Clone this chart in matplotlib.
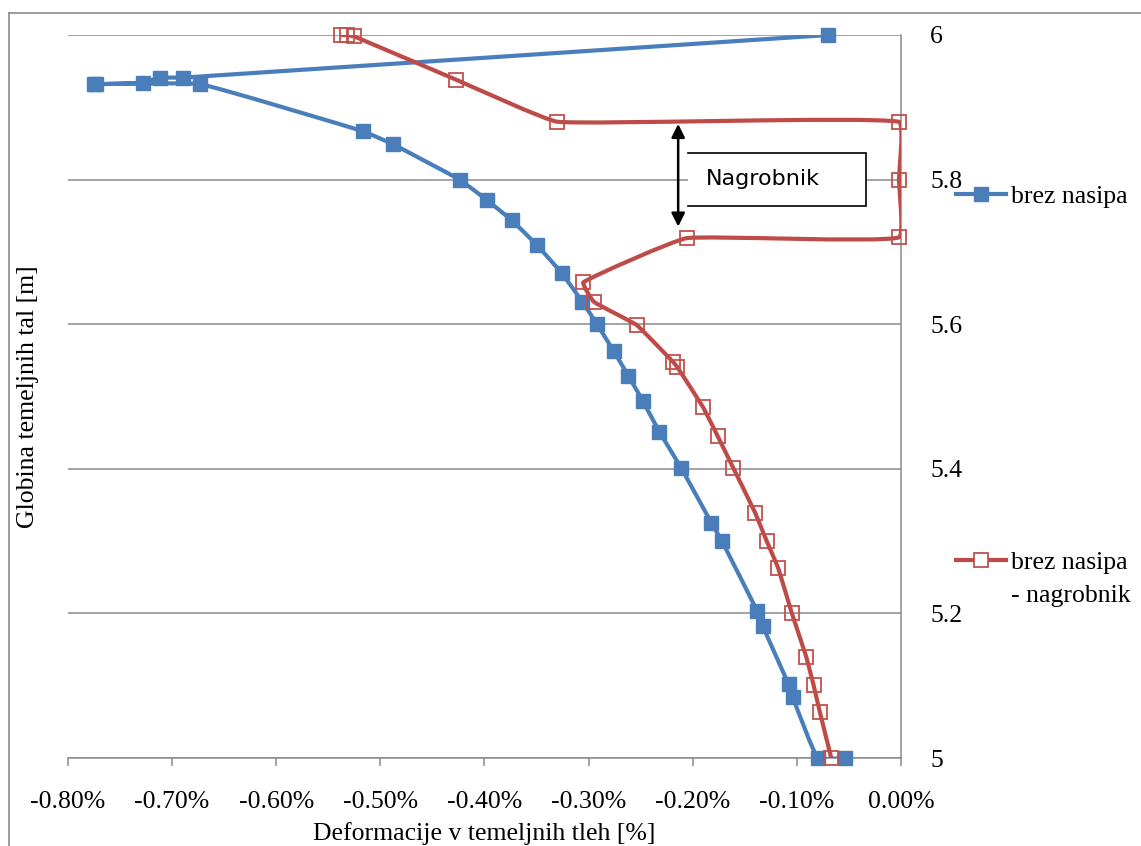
import numpy as np
import matplotlib
matplotlib.use("Agg")
import matplotlib.pyplot as plt
from matplotlib.path import Path
from matplotlib.patches import PathPatch, Rectangle
from matplotlib.lines import Line2D
from matplotlib.ticker import FuncFormatter

# Deformation [%] vs. depth of foundation soil [m]
brez_x = [-0.070, -0.690, -0.712, -0.728, -0.775, -0.773, -0.673, -0.517, -0.488,
          -0.424, -0.398, -0.374, -0.350, -0.326, -0.306, -0.292, -0.276, -0.262,
          -0.248, -0.232, -0.211, -0.182, -0.172, -0.138, -0.133, -0.108, -0.104,
          -0.080, -0.054]
brez_y = [6.000, 5.941, 5.941, 5.934, 5.932, 5.932, 5.932, 5.867, 5.849,
          5.800, 5.772, 5.744, 5.710, 5.671, 5.631, 5.600, 5.563, 5.529,
          5.494, 5.451, 5.401, 5.325, 5.300, 5.203, 5.183, 5.102, 5.084,
          5.000, 5.000]

nagr_x = [-0.538, -0.532, -0.525, -0.427, -0.330, -0.002, -0.002, -0.002, -0.206,
          -0.305, -0.295, -0.254, -0.219, -0.215, -0.190, -0.176, -0.161, -0.140,
          -0.129, -0.118, -0.105, -0.091, -0.084, -0.078, -0.067]
nagr_y = [6.000, 6.000, 5.998, 5.938, 5.880, 5.880, 5.800, 5.720, 5.719,
          5.658, 5.631, 5.599, 5.548, 5.541, 5.485, 5.445, 5.401, 5.339,
          5.300, 5.263, 5.201, 5.140, 5.101, 5.064, 5.000]

label_brez = "brez nasipa"
label_nagr = ["brez nasipa", "- nagrobnik"]
x_ticks = np.arange(-0.8, 0.001, 0.1)
y_ticks = [5.0, 5.2, 5.4, 5.6, 5.8, 6.0]

BLUE = "#4A7EBB"
RED = "#BE4B48"
GRID = "#8A8A8A"
SERIF = ["Liberation Serif", "DejaVu Serif"]
FS = 18.5
LW = 3.0


def _unit(v):
    n = np.hypot(*v)
    return v / n if n > 1e-9 else np.zeros(2)


def smooth_path(ax, x, y, k=0.1):
    """Lightly smoothed line through the points, built as cubic Bezier
    segments in screen space so both axes are treated alike."""
    to_px = ax.transData
    p = to_px.transform(np.column_stack([x, y]))
    n = len(p)
    verts = [p[0]]
    codes = [Path.MOVETO]
    for i in range(n - 1):
        p0 = p[i - 1] if i > 0 else p[i]
        p1, p2 = p[i], p[i + 1]
        p3 = p[i + 2] if i + 2 < n else p[i + 1]
        d = np.hypot(*(p2 - p1))
        t1 = _unit(p2 - p0)
        t2 = _unit(p3 - p1)
        verts += [p1 + t1 * d * k, p2 - t2 * d * k, p2]
        codes += [Path.CURVE4] * 3
    verts = to_px.inverted().transform(np.array(verts))
    return Path(verts, codes)


fig = plt.figure(figsize=(11.41, 8.46), dpi=100)
ax = fig.add_axes([68 / 1141, 1 - 758 / 846, (901 - 68) / 1141, (758 - 35) / 846])

ax.set_xlim(-0.8, 0.0)
ax.set_ylim(5.0, 6.0)

# series
ax.add_patch(PathPatch(smooth_path(ax, brez_x, brez_y), facecolor="none",
                       edgecolor=BLUE, lw=LW, zorder=3, capstyle="round",
                       joinstyle="round"))
ax.plot(brez_x, brez_y, linestyle="none", marker="s", markersize=10,
        markerfacecolor=BLUE, markeredgecolor=BLUE, zorder=4, clip_on=False)
ax.add_patch(PathPatch(smooth_path(ax, nagr_x, nagr_y), facecolor="none",
                       edgecolor=RED, lw=LW, zorder=5, capstyle="round",
                       joinstyle="round"))
ax.plot(nagr_x, nagr_y, linestyle="none", marker="s", markersize=10,
        markerfacecolor="none", markeredgecolor="#C0504D", markeredgewidth=1.3,
        zorder=6, clip_on=False)

# axes styling
for side in ("left", "top"):
    ax.spines[side].set_visible(False)
for side in ("right", "bottom"):
    ax.spines[side].set_color(GRID)
    ax.spines[side].set_linewidth(1.1)
ax.yaxis.tick_right()
ax.yaxis.set_label_position("left")
ax.set_yticks(y_ticks)
ax.set_xticks(x_ticks)
ax.yaxis.set_major_formatter(FuncFormatter(lambda v, _: f"{v:g}"))
ax.xaxis.set_major_formatter(
    FuncFormatter(lambda v, _: f"{v + 0.0:.2f}%".replace("-0.00", "0.00")))
ax.tick_params(axis="y", length=0, pad=21, labelsize=FS)
ax.tick_params(axis="x", direction="out", length=6, width=1.1, color=GRID,
               pad=18, labelsize=FS)
for lab in ax.get_xticklabels() + ax.get_yticklabels():
    lab.set_family(SERIF)
ax.grid(axis="y", color=GRID, lw=1.1, zorder=1)
ax.set_axisbelow(True)

ax.set_xlabel("Deformacije v temeljnih tleh [%]", family=SERIF, fontsize=FS, labelpad=6)
ax.set_ylabel("Globina temeljnih tal [m]", family=SERIF, fontsize=FS)
ax.yaxis.set_label_coords(-0.035, 0.5)

# "Nagrobnik" annotation: box and double arrow
bx0, bx1, by0, by1 = -0.2046, -0.0336, 5.763, 5.837
ax.add_patch(Rectangle((bx0, by0), bx1 - bx0, by1 - by0, facecolor="white",
                       edgecolor="none", zorder=2))
ax.plot([bx0, bx1, bx1, bx0], [by1, by1, by0, by0], color="black", lw=1.2,
        zorder=2.5, solid_joinstyle="miter")
ax.text(-0.187, 5.801, "Nagrobnik", family="DejaVu Sans", fontsize=16,
        va="center", ha="left", zorder=2.6)
ax.annotate("", xy=(-0.214, 5.877), xytext=(-0.214, 5.735),
            arrowprops=dict(arrowstyle="<|-|>,head_length=0.8,head_width=0.4",
                            color="black", lw=1.8, shrinkA=0, shrinkB=0),
            zorder=7)

# legends
h_blue = Line2D([], [], color=BLUE, lw=LW, marker="s", markersize=10,
                markerfacecolor=BLUE, markeredgecolor=BLUE)
h_red = Line2D([], [], color=RED, lw=LW, marker="s", markersize=10,
               markerfacecolor="white", markeredgecolor="#C0504D",
               markeredgewidth=1.3)
h_none = Line2D([], [], color="none")
leg_kw = dict(frameon=False, prop={"family": SERIF, "size": FS},
              handlelength=1.95, handletextpad=0.2, borderpad=0,
              borderaxespad=0, loc="center left")
leg1 = fig.legend([h_blue], [label_brez], bbox_to_anchor=(956 / 1141, 1 - 197 / 846),
                  **leg_kw)
leg2 = fig.legend([h_red, h_none], label_nagr, labelspacing=0.42,
                  bbox_to_anchor=(956 / 1141, 1 - 579 / 846), **leg_kw)

# outer chart frame (left and top edges)
fig.add_artist(Line2D([9 / 1141, 9 / 1141], [0, 1 - 13 / 846],
                      color=GRID, lw=1.2, transform=fig.transFigure))
fig.add_artist(Line2D([9 / 1141, 1], [1 - 13 / 846, 1 - 13 / 846],
                      color=GRID, lw=1.2, transform=fig.transFigure))

fig.savefig("out.png", dpi=100)
